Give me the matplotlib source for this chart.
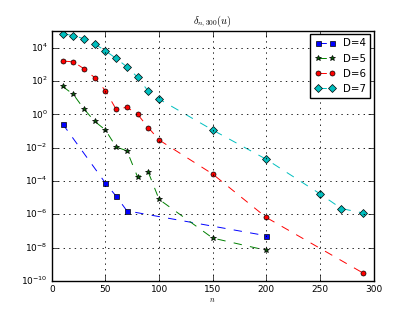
import matplotlib
matplotlib.use('Agg')
import matplotlib.pyplot as plt

plt.style.use('classic')
plt.rcParams['mathtext.fontset'] = 'cm'

# values
n4 = [10, 50, 60, 70, 200]
d4 = [0.27, 7.4e-5, 1.2e-5, 1.6e-6, 5.1e-8]

n5 = [10, 20, 30, 40, 50, 60, 70, 80, 90, 100, 150, 200]
d5 = [48, 16, 2.1, 0.38, 0.115, 0.011, 6.5e-3, 1.7e-4, 3.3e-4, 7.8e-6, 3.7e-8, 6.8e-9]

n6 = [10, 20, 30, 40, 50, 60, 70, 80, 90, 100, 150, 200, 290]
d6 = [1.6e3, 1.45e3, 5.5e2, 1.6e2, 26, 2.0, 2.7, 1.0, 0.16, 0.029, 2.6e-4, 6.4e-7, 3e-10]

n7 = [10, 20, 30, 40, 50, 60, 70, 80, 90, 100, 150, 200, 250, 270, 290]
d7 = [6.9e4, 5.5e4, 3.5e4, 1.7e4, 6.6e3, 2.3e3, 7.2e2, 1.7e2, 24, 8.3, 0.115, 2e-3, 1.7e-5, 2.2e-6, 1.2e-6]

fig = plt.figure(figsize=(4.15, 3.12), dpi=100)
ax = fig.add_subplot(111)

lw = 0.7
ax.semilogy(n4, d4, 'bs--', label='D=4', markersize=3.6, linewidth=lw, markeredgewidth=0.5)
ax.semilogy(n5, d5, 'g*--', label='D=5', markersize=4.2, linewidth=lw, markeredgewidth=0.5,
            markerfacecolor='#006600')
ax.semilogy(n6, d6, 'ro--', label='D=6', markersize=3.6, linewidth=lw, markeredgewidth=0.5)
ax.semilogy(n7, d7, 'cD--', label='D=7', markersize=3.8, linewidth=lw, markeredgewidth=0.5)

ax.set_xlim(0, 300)
ax.set_ylim(1e-10, 1e5)
ax.grid(True, linewidth=0.6)
ax.tick_params(labelsize=6.5, pad=3)
ax.set_title(r'$\delta_{n,300}(u)$', fontsize=7.5)
ax.set_xlabel(r'$n$', fontsize=5.5, labelpad=1)
ax.legend(loc='upper right', fontsize=7.4, numpoints=2, handlelength=2,
          borderaxespad=0.3, labelspacing=0.5, handletextpad=0.8)

fig.savefig('out.png', dpi=100)
